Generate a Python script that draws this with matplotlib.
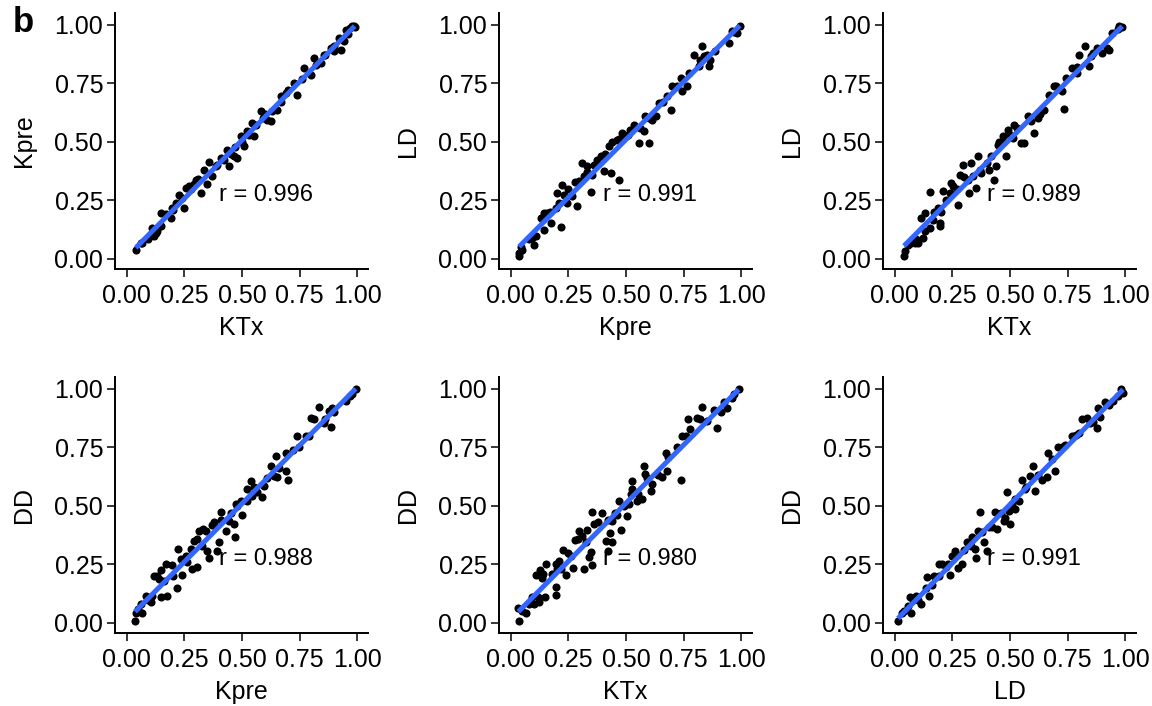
import matplotlib
matplotlib.use("Agg")
import matplotlib.pyplot as plt
import numpy as np

plt.rcParams["font.family"] = ["Liberation Sans", "DejaVu Sans"]

# panel 1: KTx vs Kpre
p1_x = [0.039, 0.068, 0.09, 0.118, 0.11, 0.126, 0.147, 0.147, 0.19, 0.198, 0.212, 0.227, 0.249,
        0.256, 0.27, 0.299, 0.321, 0.335, 0.35, 0.357, 0.371, 0.386, 0.422, 0.436, 0.444, 0.465,
        0.48, 0.494, 0.509, 0.523, 0.545, 0.552, 0.581, 0.61, 0.624, 0.653, 0.668, 0.689, 0.725,
        0.74, 0.769, 0.798, 0.812, 0.841, 0.855, 0.884, 0.899, 0.928, 0.921, 0.949, 0.978, 0.988,
        0.06, 0.17, 0.29, 0.41, 0.5, 0.6, 0.7, 0.86, 0.96,
        0.1, 0.13, 0.2, 0.24, 0.28, 0.31, 0.39, 0.45, 0.47, 0.53, 0.56, 0.59, 0.63, 0.67, 0.76,
        0.82, 0.9, 0.94, 0.97, 0.985]
p1_y = [0.04, 0.068, 0.083, 0.097, 0.13, 0.11, 0.196, 0.14, 0.175, 0.218, 0.239, 0.275, 0.218,
        0.303, 0.31, 0.339, 0.282, 0.381, 0.318, 0.413, 0.353, 0.395, 0.424, 0.467, 0.395, 0.438,
        0.431, 0.523, 0.481, 0.545, 0.58, 0.523, 0.63, 0.595, 0.588, 0.637, 0.694, 0.708, 0.751,
        0.701, 0.815, 0.787, 0.858, 0.836, 0.872, 0.9, 0.886, 0.893, 0.943, 0.979, 0.996, 0.99,
        0.07, 0.19, 0.32, 0.43, 0.5, 0.62, 0.72, 0.87, 0.96,
        0.1, 0.12, 0.21, 0.26, 0.3, 0.34, 0.4, 0.45, 0.48, 0.53, 0.57, 0.6, 0.63, 0.67, 0.77,
        0.83, 0.91, 0.93, 0.985, 0.995]

# panel 2: Kpre vs LD
p2_x = [0.036, 0.036, 0.043, 0.079, 0.101, 0.108, 0.13, 0.144, 0.159, 0.144, 0.173, 0.195, 0.216,
        0.202, 0.224, 0.231, 0.245, 0.267, 0.289, 0.296, 0.31, 0.317, 0.332, 0.346, 0.354, 0.375,
        0.39, 0.404, 0.426, 0.433, 0.469, 0.462, 0.483, 0.498, 0.519, 0.534, 0.556, 0.577, 0.584,
        0.599, 0.613, 0.628, 0.642, 0.678, 0.693, 0.7, 0.736, 0.743, 0.765, 0.772, 0.794, 0.815,
        0.83, 0.837, 0.859, 0.866, 0.887, 0.945, 0.96, 0.981, 0.993,
        0.05, 0.09, 0.14, 0.17, 0.21, 0.25, 0.28, 0.33, 0.36, 0.41, 0.44, 0.47, 0.51, 0.56, 0.6,
        0.66, 0.72, 0.82, 0.85, 0.97]
p2_y = [0.011, 0.026, 0.051, 0.083, 0.061, 0.097, 0.175, 0.196, 0.196, 0.125, 0.154, 0.218, 0.137,
        0.282, 0.317, 0.275, 0.239, 0.267, 0.225, 0.331, 0.41, 0.353, 0.395, 0.284, 0.36, 0.424,
        0.438, 0.374, 0.481, 0.367, 0.339, 0.509, 0.538, 0.523, 0.552, 0.573, 0.495, 0.545, 0.609,
        0.495, 0.595, 0.609, 0.666, 0.694, 0.637, 0.737, 0.772, 0.716, 0.737, 0.794, 0.872, 0.822,
        0.908, 0.865, 0.822, 0.851, 0.886, 0.922, 0.972, 0.964, 0.996,
        0.04, 0.09, 0.17, 0.2, 0.24, 0.3, 0.33, 0.37, 0.4, 0.45, 0.5, 0.51, 0.53, 0.56, 0.6,
        0.67, 0.74, 0.85, 0.87, 0.97]

# panel 3: KTx vs LD
p3_x = [0.04, 0.043, 0.058, 0.086, 0.094, 0.122, 0.115, 0.129, 0.151, 0.151, 0.165, 0.194, 0.194,
        0.187, 0.209, 0.223, 0.245, 0.252, 0.273, 0.281, 0.295, 0.317, 0.324, 0.331, 0.338, 0.353,
        0.36, 0.374, 0.41, 0.417, 0.432, 0.439, 0.446, 0.468, 0.482, 0.489, 0.511, 0.518, 0.547,
        0.561, 0.576, 0.604, 0.619, 0.647, 0.669, 0.691, 0.727, 0.734, 0.741, 0.77, 0.791, 0.799,
        0.827, 0.842, 0.849, 0.878, 0.899, 0.928, 0.942, 0.971, 0.986,
        0.07, 0.1, 0.13, 0.17, 0.2, 0.24, 0.27, 0.3, 0.37, 0.4, 0.45, 0.47, 0.5, 0.53, 0.59,
        0.63, 0.7, 0.79, 0.86, 0.92, 0.97]
p3_y = [0.011, 0.033, 0.061, 0.068, 0.083, 0.09, 0.175, 0.196, 0.284, 0.132, 0.168, 0.139, 0.154,
        0.218, 0.289, 0.253, 0.324, 0.31, 0.232, 0.36, 0.403, 0.339, 0.282, 0.41, 0.353, 0.303,
        0.438, 0.367, 0.381, 0.438, 0.339, 0.395, 0.488, 0.523, 0.438, 0.552, 0.516, 0.573, 0.495,
        0.495, 0.609, 0.538, 0.602, 0.637, 0.701, 0.737, 0.716, 0.64, 0.772, 0.815, 0.794, 0.872,
        0.908, 0.822, 0.865, 0.9, 0.879, 0.893, 0.964, 0.993, 0.99,
        0.07, 0.07, 0.12, 0.2, 0.2, 0.28, 0.3, 0.35, 0.38, 0.41, 0.5, 0.5, 0.53, 0.56, 0.59,
        0.62, 0.74, 0.82, 0.88, 0.9, 0.98]

# panel 4: Kpre vs DD
p4_x = [0.036, 0.039, 0.049, 0.068, 0.082, 0.104, 0.11, 0.133, 0.14, 0.147, 0.147, 0.169, 0.176,
        0.198, 0.217, 0.22, 0.234, 0.241, 0.256, 0.277, 0.285, 0.306, 0.306, 0.314, 0.327, 0.342,
        0.35, 0.357, 0.379, 0.393, 0.4, 0.408, 0.429, 0.444, 0.465, 0.468, 0.472, 0.494, 0.501,
        0.523, 0.538, 0.545, 0.566, 0.588, 0.595, 0.624, 0.639, 0.653, 0.646, 0.689, 0.689, 0.697,
        0.74, 0.747, 0.776, 0.798, 0.812, 0.834, 0.855, 0.884, 0.877, 0.892, 0.949, 0.978, 0.993,
        0.06, 0.09, 0.12, 0.16, 0.2, 0.26, 0.29, 0.33, 0.37, 0.41, 0.45, 0.48, 0.52, 0.55, 0.61,
        0.66, 0.72, 0.79, 0.86, 0.9, 0.97]
p4_y = [0.01, 0.043, 0.06, 0.043, 0.114, 0.088, 0.116, 0.202, 0.188, 0.227, 0.109, 0.251, 0.116,
        0.247, 0.149, 0.315, 0.273, 0.205, 0.287, 0.315, 0.23, 0.237, 0.358, 0.393, 0.33, 0.393,
        0.308, 0.276, 0.429, 0.308, 0.344, 0.472, 0.393, 0.436, 0.422, 0.365, 0.507, 0.521, 0.46,
        0.571, 0.607, 0.543, 0.557, 0.536, 0.585, 0.668, 0.628, 0.621, 0.713, 0.727, 0.649, 0.611,
        0.798, 0.749, 0.798, 0.876, 0.869, 0.923, 0.855, 0.838, 0.905, 0.919, 0.947, 0.976, 0.997,
        0.08, 0.1, 0.2, 0.18, 0.2, 0.26, 0.35, 0.4, 0.42, 0.44, 0.47, 0.5, 0.52, 0.58, 0.62,
        0.66, 0.74, 0.8, 0.87, 0.9, 0.97]

# panel 5: KTx vs DD
p5_x = [0.036, 0.033, 0.068, 0.094, 0.101, 0.123, 0.108, 0.126, 0.134, 0.152, 0.149, 0.195, 0.195,
        0.195, 0.209, 0.216, 0.227, 0.238, 0.26, 0.27, 0.278, 0.296, 0.317, 0.325, 0.332, 0.346,
        0.351, 0.361, 0.354, 0.397, 0.411, 0.423, 0.429, 0.437, 0.44, 0.462, 0.469, 0.48, 0.505,
        0.512, 0.527, 0.527, 0.548, 0.57, 0.577, 0.584, 0.606, 0.613, 0.657, 0.671, 0.678, 0.722,
        0.736, 0.743, 0.769, 0.779, 0.808, 0.83, 0.851, 0.88, 0.894, 0.924, 0.938, 0.967, 0.988,
        0.05, 0.08, 0.12, 0.14, 0.18, 0.2, 0.25, 0.29, 0.31, 0.34, 0.38, 0.42, 0.45, 0.49, 0.52,
        0.55, 0.59, 0.64, 0.68, 0.76, 0.82, 0.91, 0.96]
p5_y = [0.01, 0.063, 0.043, 0.109, 0.081, 0.088, 0.205, 0.227, 0.193, 0.251, 0.109, 0.152, 0.119,
        0.251, 0.266, 0.23, 0.313, 0.205, 0.287, 0.233, 0.355, 0.393, 0.23, 0.344, 0.396, 0.301,
        0.247, 0.422, 0.474, 0.469, 0.351, 0.308, 0.386, 0.344, 0.436, 0.46, 0.521, 0.398, 0.457,
        0.507, 0.571, 0.607, 0.521, 0.528, 0.668, 0.635, 0.564, 0.592, 0.621, 0.727, 0.649, 0.753,
        0.611, 0.798, 0.872, 0.827, 0.876, 0.923, 0.862, 0.909, 0.834, 0.943, 0.919, 0.976, 0.997,
        0.05, 0.08, 0.11, 0.21, 0.21, 0.23, 0.3, 0.36, 0.37, 0.28, 0.43, 0.44, 0.47, 0.5, 0.55,
        0.55, 0.62, 0.63, 0.71, 0.8, 0.87, 0.9, 0.96]

# panel 6: LD vs DD
p6_x = [0.014, 0.033, 0.058, 0.066, 0.069, 0.091, 0.112, 0.134, 0.141, 0.148, 0.17, 0.191, 0.206,
        0.22, 0.239, 0.249, 0.263, 0.273, 0.292, 0.314, 0.335, 0.35, 0.354, 0.36, 0.371, 0.386,
        0.4, 0.407, 0.436, 0.443, 0.472, 0.486, 0.494, 0.501, 0.508, 0.522, 0.537, 0.551, 0.565,
        0.587, 0.601, 0.609, 0.637, 0.659, 0.666, 0.695, 0.709, 0.724, 0.767, 0.788, 0.81, 0.832,
        0.846, 0.875, 0.882, 0.911, 0.947, 0.983, 0.99,
        0.04, 0.08, 0.1, 0.16, 0.19, 0.23, 0.27, 0.3, 0.33, 0.38, 0.42, 0.46, 0.48, 0.52, 0.57,
        0.62, 0.68, 0.74, 0.8, 0.86, 0.89, 0.93, 0.97]
p6_y = [0.01, 0.043, 0.071, 0.109, 0.043, 0.116, 0.081, 0.148, 0.195, 0.116, 0.202, 0.251, 0.251,
        0.237, 0.205, 0.287, 0.308, 0.233, 0.251, 0.344, 0.365, 0.315, 0.276, 0.393, 0.472, 0.344,
        0.308, 0.408, 0.472, 0.401, 0.436, 0.557, 0.479, 0.422, 0.507, 0.486, 0.521, 0.611, 0.571,
        0.628, 0.668, 0.564, 0.611, 0.621, 0.727, 0.649, 0.753, 0.749, 0.798, 0.801, 0.872, 0.876,
        0.855, 0.834, 0.919, 0.943, 0.947, 0.997, 0.98,
        0.05, 0.1, 0.1, 0.16, 0.2, 0.25, 0.29, 0.31, 0.33, 0.39, 0.41, 0.47, 0.45, 0.53, 0.58,
        0.63, 0.7, 0.76, 0.81, 0.86, 0.88, 0.93, 0.97]

panels = [
    (p1_x, p1_y, "KTx", "Kpre", "r = 0.996"),
    (p2_x, p2_y, "Kpre", "LD", "r = 0.991"),
    (p3_x, p3_y, "KTx", "LD", "r = 0.989"),
    (p4_x, p4_y, "Kpre", "DD", "r = 0.988"),
    (p5_x, p5_y, "KTx", "DD", "r = 0.980"),
    (p6_x, p6_y, "LD", "DD", "r = 0.991"),
]

W, H = 1152, 706
fig = plt.figure(figsize=(W / 100, H / 100), dpi=100)

lefts = [115, 499, 883]
tops = [13, 377]
aw, ah = 253, 256
fs = 18

for i, (x, y, xl, yl, lab) in enumerate(panels):
    r, c = divmod(i, 3)
    ax = fig.add_axes([lefts[c] / W, (H - tops[r] - ah) / H, aw / W, ah / H])
    x = np.array(x)
    y = np.array(y)
    ax.scatter(x, y, s=34, color="black", linewidths=0, zorder=2)
    k, b = np.polyfit(x, y, 1)
    xs = np.array([x.min(), x.max()])
    ax.plot(xs, k * xs + b, color="#3366FF", lw=3.6, solid_capstyle="butt", zorder=3)
    ax.text(0.4, 0.274, lab, fontsize=fs - 1, ha="left", va="center", zorder=4)
    ax.set_xlim(-0.051, 1.046)
    ax.set_ylim(-0.043, 1.05)
    ticks = [0, 0.25, 0.5, 0.75, 1.0]
    ax.set_xticks(ticks)
    ax.set_yticks(ticks)
    ax.set_xticklabels(["%.2f" % t for t in ticks])
    ax.set_yticklabels(["%.2f" % t for t in ticks])
    ax.tick_params(labelsize=fs, length=5.5, width=1.1, colors="black")
    ax.tick_params(axis="x", pad=5)
    ax.tick_params(axis="y", pad=3)
    for s in ["top", "right"]:
        ax.spines[s].set_visible(False)
    for s in ["left", "bottom"]:
        ax.spines[s].set_linewidth(1.4)
    ax.set_xlabel(xl, fontsize=fs, labelpad=6)
    ax.set_ylabel(yl, fontsize=fs, labelpad=13)

fig.text(13 / W, 1 - 23 / H, "b", fontsize=25, fontweight="bold", ha="left", va="center")

fig.savefig("out.png", dpi=100)
